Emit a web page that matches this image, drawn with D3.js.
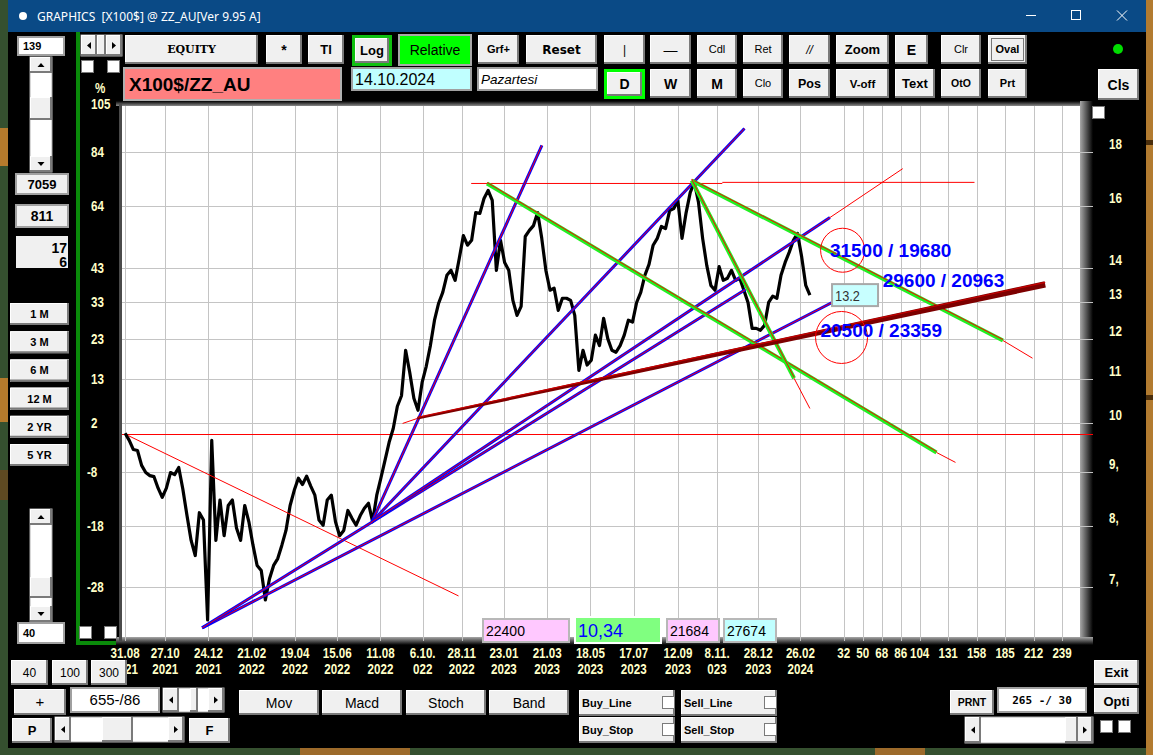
<!DOCTYPE html>
<html>
<head>
<meta charset="utf-8" />
<script src="https://cdn.jsdelivr.net/npm/d3@7/dist/d3.min.js"></script>
<style>
  body { margin: 0; background: #000; overflow: hidden; }
  text { font-family: "Liberation Sans", Arial, sans-serif; }
  .ax { font-family: "Liberation Sans", Arial, sans-serif;
        font-weight: bold; font-size: 14.5px; fill: #ffffc8; }
</style>
</head>
<body>
<script>
// ---------- values ----------
// closes, sampled at evenly spaced bars from bar 0 to lastBar
var closes = [9.78, 9.63, 9.44, 9.42, 9.12, 8.98, 8.92, 8.90, 8.68, 8.51,
  8.68, 8.98, 8.94, 9.08, 8.66, 8.18, 7.75, 7.50, 8.23, 8.10,
  6.52, 9.63, 7.75, 8.46, 7.83, 8.36, 8.46, 7.96, 7.75, 8.36,
  8.07, 7.67, 7.34, 7.26, 6.81, 7.13, 7.34, 7.45, 7.67, 7.92,
  8.36, 8.64, 8.87, 8.75, 8.91, 8.72, 8.55, 8.10, 8.01, 8.46,
  8.55, 8.07, 7.83, 7.92, 8.27, 8.13, 8.01, 8.18, 8.31, 8.40,
  8.07, 8.55, 8.87, 9.22, 9.59, 9.88, 10.37, 10.61, 11.71, 11.16,
  10.55, 10.28, 10.92, 11.31, 11.83, 12.50, 12.97, 13.28, 13.78, 13.93,
  13.63, 14.29, 15.02, 14.71, 14.87, 15.79, 15.76, 16.28, 16.57, 16.21,
  13.93, 14.87, 14.17, 13.93, 13.05, 12.63, 12.88, 14.99, 15.19, 15.35,
  15.79, 14.93, 13.93, 13.34, 13.40, 12.77, 13.11, 13.11, 13.05, 12.63,
  11.21, 11.71, 11.34, 11.46, 12.10, 11.83, 12.55, 12.01, 11.71, 11.66,
  11.83, 12.10, 12.50, 12.45, 12.99, 13.28, 13.78, 14.11, 14.71, 14.93,
  15.32, 15.25, 15.86, 15.93, 16.21, 14.93, 15.79, 16.50, 16.86, 16.14,
  14.93, 14.08, 13.48, 13.34, 14.04, 13.63, 13.69, 13.93, 13.63, 13.69,
  13.34, 12.99, 12.28, 12.28, 12.23, 12.36, 12.99, 13.17, 13.11, 13.78,
  14.17, 14.49, 14.87, 15.09, 14.35, 13.48, 13.2];
var lastBar = 649;
var basePrice = 9.76;               // 0 % of the relative scale

var priceTicks = [20, 18, 16, 14, 13, 12, 11, 10, 9, 8, 7];
var rightTickText = ["", "18", "16", "14", "13", "12", "11", "10", "9,", "8,", "7,"];

var dateTickBars = [0, 38, 79, 120, 161, 201, 242, 282, 319, 359, 400, 441, 482, 524, 561, 600, 640];
var dateTickText = [["31.08", "2021"], ["27.10", "2021"], ["24.12", "2021"], ["21.02", "2022"],
  ["19.04", "2022"], ["15.06", "2022"], ["11.08", "2022"], ["6.10.", "022"], ["28.11", "2022"],
  ["23.01", "2023"], ["21.03", "2023"], ["18.05", "2023"], ["17.07", "2023"], ["12.09", "2023"],
  ["8.11.", "023"], ["28.12", "2023"], ["26.02", "2024"]];
var futureDays = [32, 50, 68, 86, 104, 131, 158, 185, 212, 239];

// drawn objects, endpoints as [bar, price]
var fanLines = [
  { a: [73, 6.41], b: [670, 12.99] },
  { a: [73, 6.41], b: [588, 13.36] },
  { a: [234, 8.07], b: [395, 18.27] },
  { a: [234, 8.07], b: [587, 18.95] },
  { a: [234, 8.07], b: [668, 15.62], ext: [737, 17.37] }
];
var greenLines = [
  { a: [343, 16.82], b: [769, 9.38], ext: [787, 9.18] },
  { a: [537, 16.93], b: [832, 11.96], ext: [860, 11.51] },
  { a: [537, 16.93], b: [634, 11.02], ext: [649, 10.32] }
];
var redLines = [
  { a: [3, 9.73], b: [316, 6.87] },
  { a: [328, 16.82], b: [566, 16.82] },
  { a: [566, 16.86], b: [805, 16.86] }
];
var supportLine = { a: [277, 10.10], b: [872, 13.51], ext: [263, 9.99] };
var ovals = [{ c: [680, 14.55], r: 22 }, { c: [679, 12.04], r: 26 }];
var targets = [
  { at: [668, 14.33], text: "31500 / 19680" },
  { at: [718, 13.43], text: "29600 / 20963" },
  { at: [659, 12.04], text: "20500 / 23359" }
];
var infoValues = ["22400", "10,34", "21684", "27674"];

// ---------- page ----------
var W = 1153, H = 755;
var svg = d3.select("body").append("svg").attr("width", W).attr("height", H);
var defs = svg.append("defs");

function grad(id, x2, y2, c1, c2) {
  var g = defs.append("linearGradient").attr("id", id)
    .attr("x1", 0).attr("y1", 0).attr("x2", x2).attr("y2", y2);
  g.append("stop").attr("offset", "0%").attr("stop-color", c1);
  g.append("stop").attr("offset", "100%").attr("stop-color", c2);
}
grad("shR", 1, 0, "#a8a8a8", "#000");
grad("shB", 0, 1, "#a8a8a8", "#000");
grad("shT", 0, 1, "#000", "#8a8a8a");

// wallpaper round the window
svg.append("rect").attr("width", W).attr("height", H).attr("fill", "#35502f");
[[0, 128, 8, 38, "#b57a2c"], [0, 378, 8, 44, "#b57a2c"], [0, 470, 8, 30, "#5e4a22"],
 [1146, 0, 7, 755, "#b27b30"], [1146, 140, 7, 5, "#4a2e0c"], [1146, 395, 7, 5, "#4a2e0c"],
 [300, 748, 110, 7, "#9c6a2a"], [875, 748, 50, 7, "#9c6a2a"]].forEach(function (b) {
  svg.append("rect").attr("x", b[0]).attr("y", b[1]).attr("width", b[2]).attr("height", b[3]).attr("fill", b[4]);
});

// window
svg.append("rect").attr("x", 8).attr("y", 0).attr("width", 1138).attr("height", 748).attr("fill", "#000");
svg.append("rect").attr("x", 8).attr("y", 0).attr("width", 1138).attr("height", 32).attr("fill", "#0a4a86");
svg.append("circle").attr("cx", 23).attr("cy", 16).attr("r", 4).attr("fill", "#fff");
svg.append("text").attr("x", 37).attr("y", 21).attr("fill", "#fff")
  .style("font-family", "'Noto Sans', 'Open Sans', sans-serif").style("font-size", "12px")
  .text("GRAPHICS\u00a0\u00a0[X100$] @ ZZ_AU[Ver 9.95 A]");
svg.append("line").attr("x1", 1026).attr("x2", 1036).attr("y1", 15.5).attr("y2", 15.5).attr("stroke", "#fff");
svg.append("rect").attr("x", 1071.5).attr("y", 10.5).attr("width", 9).attr("height", 9).attr("fill", "none").attr("stroke", "#fff");
svg.append("path").attr("d", "M1117,10.5 L1127,20.5 M1127,10.5 L1117,20.5").attr("stroke", "#fff");

// green frame left of the axis
svg.append("rect").attr("x", 76).attr("y", 32).attr("width", 4).attr("height", 613).attr("fill", "#0a8a0a");
svg.append("rect").attr("x", 76).attr("y", 641).attr("width", 46).attr("height", 4).attr("fill", "#0a8a0a");

// ---------- chart ----------
var plot = { left: 122, right: 1080, top: 106, bottom: 637 };
var x = d3.scaleLinear().domain([-2, 905]).range([123, 1080]);
var y = d3.scaleLog().domain([6.284, 19.90]).range([637, 106]);
function P(p) { return [x(p[0]), y(p[1])]; }

svg.append("rect").attr("x", 116).attr("y", 101).attr("width", 977).attr("height", 5).attr("fill", "url(#shT)");
svg.append("rect").attr("x", plot.right).attr("y", 101).attr("width", 13).attr("height", 544).attr("fill", "url(#shR)");
svg.append("rect").attr("x", 116).attr("y", plot.bottom).attr("width", 977).attr("height", 8).attr("fill", "url(#shB)");
svg.append("rect").attr("x", 119).attr("y", 104).attr("width", 3).attr("height", 537).attr("fill", "#4a4a4a");
svg.append("rect").attr("x", plot.left).attr("y", plot.top)
  .attr("width", plot.right - plot.left).attr("height", plot.bottom - plot.top).attr("fill", "#fff");

var grid = svg.append("g").attr("stroke", "#c4c4c4").attr("stroke-width", 1);
var allBars = dateTickBars.concat(futureDays.map(function (d) { return lastBar + d; }));
grid.selectAll("line.v").data(allBars).enter().append("line")
  .attr("x1", function (d) { return Math.round(x(d)) + 0.5; })
  .attr("x2", function (d) { return Math.round(x(d)) + 0.5; })
  .attr("y1", plot.top).attr("y2", plot.bottom + 4);
var inPlot = priceTicks.filter(function (p) { return y(p) > plot.top; });
grid.selectAll("line.h").data(inPlot).enter().append("line")
  .attr("x1", plot.left).attr("x2", 1093)
  .attr("y1", function (d) { return Math.round(y(d)) + 0.5; })
  .attr("y2", function (d) { return Math.round(y(d)) + 0.5; });

// 0 % line
svg.append("line").attr("x1", plot.left).attr("x2", 1093)
  .attr("y1", Math.round(y(basePrice)) + 0.5).attr("y2", Math.round(y(basePrice)) + 0.5)
  .attr("stroke", "#ff0000");

// axis text: bold, squeezed to the narrow look of the screen font
function axText(g, px, py, t, anchor) {
  return g.append("text").attr("class", "ax")
    .attr("transform", "translate(" + px + "," + py + ") scale(0.8,1)")
    .attr("text-anchor", anchor || "start").text(t);
}

var axL = svg.append("g");
axText(axL, 95, 93, "%");
priceTicks.forEach(function (p, i) {
  axText(axL, p < basePrice ? 87 : 91, y(p) + 5, Math.round((p / basePrice - 1) * 100));
  if (rightTickText[i]) axText(axL, 1109, y(p) - 3, rightTickText[i]);
});

var axB = svg.append("g");
dateTickBars.forEach(function (b, i) {
  axText(axB, x(b), 657.5, dateTickText[i][0], "middle");
  axText(axB, x(b), 674, dateTickText[i][1], "middle");
});
futureDays.forEach(function (d) {
  axText(axB, x(lastBar + d), 657.5, d, "middle");
});

// price
var step = lastBar / (closes.length - 1);
svg.append("path").datum(closes)
  .attr("d", d3.line().x(function (d, i) { return x(i * step); }).y(function (d) { return y(d); }))
  .attr("fill", "none").attr("stroke", "#000").attr("stroke-width", 3.2).attr("stroke-linejoin", "round");

function seg(g, a, b) {
  var p = P(a), q = P(b);
  return g.append("line").attr("x1", p[0]).attr("y1", p[1]).attr("x2", q[0]).attr("y2", q[1]);
}

// red thin
var gRed = svg.append("g").attr("stroke", "#ff0000").attr("stroke-width", 1);
redLines.forEach(function (l) { seg(gRed, l.a, l.b); });

// fan lines: blue with red core
var gFan = svg.append("g");
fanLines.forEach(function (l) {
  seg(gFan, l.a, l.b).attr("stroke", "#0000ff").attr("stroke-width", 3);
  seg(gFan, l.a, l.b).attr("stroke", "#ff0000").attr("stroke-width", 1);
  if (l.ext) seg(gFan, l.b, l.ext).attr("stroke", "#ff0000").attr("stroke-width", 1);
});

// green lines
var gGreen = svg.append("g");
greenLines.forEach(function (l) {
  seg(gGreen, l.a, l.b).attr("stroke", "#22ee22").attr("stroke-width", 4);
  seg(gGreen, l.a, l.b).attr("stroke", "#ff0000").attr("stroke-width", 1).attr("transform", "translate(0,-1)");
  seg(gGreen, l.b, l.ext).attr("stroke", "#ff0000").attr("stroke-width", 1);
});

// thick support, widening to the right
(function () {
  var p = P(supportLine.a), q = P(supportLine.b), e = P(supportLine.ext);
  var dx = q[0] - p[0], dy = q[1] - p[1], len = Math.sqrt(dx * dx + dy * dy);
  var nx = -dy / len, ny = dx / len, w0 = 1.2, w1 = 3.2;
  var poly = [[p[0] + nx * w0, p[1] + ny * w0], [q[0] + nx * w1, q[1] + ny * w1],
              [q[0] - nx * w1, q[1] - ny * w1], [p[0] - nx * w0, p[1] - ny * w0]];
  svg.append("line").attr("x1", e[0]).attr("y1", e[1]).attr("x2", p[0]).attr("y2", p[1])
    .attr("stroke", "#ff0000");
  svg.append("path").attr("d", "M" + poly.join("L") + "Z").attr("fill", "#7d0000");
  svg.append("line").attr("x1", p[0]).attr("y1", p[1] - 1).attr("x2", q[0]).attr("y2", q[1] - 2)
    .attr("stroke", "#c80000").attr("stroke-width", 1.2);
})();

// ovals
svg.selectAll("circle.oval").data(ovals).enter().append("circle")
  .attr("cx", function (d) { return x(d.c[0]); }).attr("cy", function (d) { return y(d.c[1]); })
  .attr("r", function (d) { return d.r; }).attr("fill", "none").attr("stroke", "#ff0000");

// target texts
svg.selectAll("text.tg").data(targets).enter().append("text")
  .attr("x", function (d) { return x(d.at[0]); }).attr("y", function (d) { return y(d.at[1]); })
  .attr("fill", "#0000ff").style("font-size", "19px").style("font-weight", "bold")
  .text(function (d) { return d.text; });

// last value box
var lx = x(lastBar + 21), ly = y(closes[closes.length - 1]);
svg.append("rect").attr("x", lx).attr("y", ly - 11).attr("width", 46).attr("height", 22)
  .attr("fill", "#c8ffff").attr("stroke", "#a8a8a8").attr("stroke-width", 2);
svg.append("text").attr("transform", "translate(" + (lx + 3) + "," + (ly + 6) + ") scale(0.85,1)").attr("fill", "#333")
  .style("font-size", "15px").text(closes[closes.length - 1].toFixed(1));

// value boxes at the bottom of the plot
var boxes = [[483, 619, 86, 23, "#ffc8ff", "#000", 14], [575, 617, 86, 26, "#80ff80", "#0000ff", 18],
             [667, 619, 52, 23, "#ffc8ff", "#000", 14], [724, 619, 52, 23, "#c0ffff", "#000", 14]];
boxes.forEach(function (b, i) {
  svg.append("rect").attr("x", b[0]).attr("y", b[1]).attr("width", b[2]).attr("height", b[3])
    .attr("fill", b[4]).attr("stroke", i === 1 ? "#fff" : "#b8b8b8").attr("stroke-width", 2);
  svg.append("text").attr("x", b[0] + 3).attr("y", b[1] + b[3] - 6).attr("fill", b[5])
    .style("font-size", b[6] + "px").text(infoValues[i]);
});

// ---------- controls ----------
var SANS = "'Liberation Sans', Arial, sans-serif";
function btn(x0, y0, w, h, label, o) {
  o = o || {};
  var g = svg.append("g");
  g.append("rect").attr("x", x0).attr("y", y0).attr("width", w).attr("height", h).attr("fill", o.fill || "#f0f0f0");
  g.append("path").attr("d", "M" + (x0 + 0.5) + "," + (y0 + h) + "V" + (y0 + 0.5) + "H" + (x0 + w))
    .attr("stroke", "#fff").attr("fill", "none");
  g.append("path").attr("d", "M" + x0 + "," + (y0 + h - 1) + "H" + (x0 + w - 1) + "V" + y0)
    .attr("stroke", "#7a7a7a").attr("stroke-width", 2).attr("fill", "none");
  if (label !== "") {
    g.append("text").attr("x", o.left ? x0 + o.left : x0 + w / 2).attr("y", y0 + h / 2).attr("dy", "0.36em")
      .attr("text-anchor", o.left ? "start" : "middle").attr("fill", o.color || "#000")
      .style("font-family", o.font || SANS).style("font-size", (o.size || 12) + "px")
      .style("font-weight", o.normal ? "normal" : "bold").style("font-style", o.italic ? "italic" : "normal")
      .text(label);
  }
  return g;
}
function field(x0, y0, w, h, fill, label, o) {
  o = o || {};
  svg.append("rect").attr("x", x0).attr("y", y0).attr("width", w).attr("height", h).attr("fill", fill)
    .attr("stroke", "#a0a0a0").attr("stroke-width", 2);
  if (label) svg.append("text").attr("x", o.anchor === "middle" ? x0 + w / 2 : x0 + (o.pad || 4))
    .attr("y", y0 + h / 2).attr("dy", "0.36em").attr("text-anchor", o.anchor || "start")
    .style("font-family", o.font || SANS).style("font-size", (o.size || 12) + "px")
    .style("font-weight", o.bold ? "bold" : "normal").style("font-style", o.italic ? "italic" : "normal")
    .attr("fill", "#000").text(label);
}
function check(x0, y0) {
  svg.append("rect").attr("x", x0 + 0.5).attr("y", y0 + 0.5).attr("width", 12).attr("height", 12)
    .attr("fill", "#fff").attr("stroke", "#7a7a7a");
}
function arrow(cx, cy, dir) {
  var s = 3.5, d;
  if (dir === "l") d = [[cx + 2, cy - s], [cx + 2, cy + s], [cx - 2, cy]];
  if (dir === "r") d = [[cx - 2, cy - s], [cx - 2, cy + s], [cx + 2, cy]];
  if (dir === "u") d = [[cx - s, cy + 2], [cx + s, cy + 2], [cx, cy - 2]];
  if (dir === "d") d = [[cx - s, cy - 2], [cx + s, cy - 2], [cx, cy + 2]];
  svg.append("path").attr("d", "M" + d.join("L") + "Z").attr("fill", "#000");
}
function hscroll(x0, y0, w, h, t0, t1) {
  svg.append("rect").attr("x", x0).attr("y", y0).attr("width", w).attr("height", h).attr("fill", "#fff").attr("stroke", "#b0b0b0");
  btn(x0, y0, 16, h, ""); arrow(x0 + 8, y0 + h / 2, "l");
  btn(x0 + w - 16, y0, 16, h, ""); arrow(x0 + w - 8, y0 + h / 2, "r");
  btn(t0, y0, t1 - t0, h, "");
}
function vscroll(x0, y0, w, h, t0, t1) {
  svg.append("rect").attr("x", x0).attr("y", y0).attr("width", w).attr("height", h).attr("fill", "#fff").attr("stroke", "#b0b0b0");
  btn(x0, y0, w, 16, ""); arrow(x0 + w / 2, y0 + 8, "u");
  btn(x0, y0 + h - 16, w, 16, ""); arrow(x0 + w / 2, y0 + h - 8, "d");
  btn(x0, t0, w, t1 - t0, "");
}

// top row
field(18, 37, 46, 18, "#fff", "139", { bold: true, size: 11, pad: 5 });
hscroll(81, 35, 41, 21, 97, 106);
check(81, 60); check(107, 60);
btn(125, 35, 133, 29, "EQUITY", { font: "'DejaVu Serif', 'Liberation Serif', serif", size: 11 });
btn(266, 35, 36, 29, "*", { size: 14 });
btn(308, 35, 36, 29, "Tl", { size: 13 });
svg.append("rect").attr("x", 352).attr("y", 35).attr("width", 40).attr("height", 31).attr("fill", "#10c010");
btn(355, 38, 34, 25, "Log", { size: 13 });
svg.append("rect").attr("x", 399).attr("y", 35).attr("width", 72).attr("height", 30)
  .attr("fill", "#00ff00").attr("stroke", "#a8a8a8").attr("stroke-width", 2);
svg.append("text").attr("x", 435).attr("y", 55).attr("text-anchor", "middle").style("font-size", "14px").text("Relative");
btn(478, 35, 41, 29, "Grf+", { size: 11 });
btn(526, 35, 71, 29, "Reset", { size: 12, font: "'DejaVu Sans', sans-serif" });
btn(604, 35, 41, 29, "|", { size: 12, normal: true });
btn(650, 35, 41, 29, "\u2014", { size: 14, normal: true });
btn(697, 35, 40, 29, "Cdl", { size: 11, normal: true });
btn(743, 35, 40, 29, "Ret", { size: 11, normal: true });
btn(789, 35, 41, 29, "//", { size: 12, normal: true, italic: true });
btn(836, 35, 53, 29, "Zoom", { size: 13 });
btn(895, 35, 33, 29, "E", { size: 14 });
btn(941, 35, 40, 29, "Clr", { size: 11, normal: true });
btn(988, 35, 39, 29, "Oval", { size: 11 });
svg.append("rect").attr("x", 991.5).attr("y", 38.5).attr("width", 32).attr("height", 22)
  .attr("fill", "none").attr("stroke", "#000").attr("stroke-dasharray", "1,1");
svg.append("circle").attr("cx", 1118).attr("cy", 49).attr("r", 5).attr("fill", "#00dd00");

// second row
svg.append("rect").attr("x", 124).attr("y", 68).attr("width", 217).attr("height", 32)
  .attr("fill", "#ff8080").attr("stroke", "#b0b0b0").attr("stroke-width", 2);
svg.append("text").attr("x", 129).attr("y", 91).style("font-size", "19px").style("font-weight", "bold").text("X100$/ZZ_AU");
field(352, 68, 119, 22, "#c0ffff", "14.10.2024", { size: 16, pad: 3 });
field(478, 68, 119, 22, "#fff", "Pazartesi", { size: 13.5, italic: true, pad: 3 });
svg.append("rect").attr("x", 604).attr("y", 69).attr("width", 41).attr("height", 30).attr("fill", "#00ff00");
btn(607, 72, 35, 24, "D", { size: 14 });
btn(650, 69, 41, 29, "W", { size: 14 });
btn(697, 69, 40, 29, "M", { size: 14 });
btn(743, 69, 40, 29, "Clo", { size: 11, normal: true });
btn(789, 69, 41, 29, "Pos", { size: 12.5 });
btn(836, 69, 53, 29, "V-off", { size: 11.5 });
btn(895, 69, 40, 29, "Text", { size: 13 });
btn(941, 69, 40, 29, "OtO", { size: 10.5 });
btn(988, 69, 39, 29, "Prt", { size: 11 });
btn(1098, 69, 41, 31, "Cls", { size: 14 });
check(1092, 106);

// left column
vscroll(30, 57, 22, 115, 97, 120);
field(16, 174, 52, 20, "#f0f0f0", "7059", { bold: true, size: 13, anchor: "middle" });
field(16, 205, 52, 22, "#f0f0f0", "811", { bold: true, size: 14, anchor: "middle" });
svg.append("rect").attr("x", 16).attr("y", 236).attr("width", 52).attr("height", 32).attr("fill", "#f0f0f0");
svg.append("text").attr("x", 67).attr("y", 253).attr("text-anchor", "end").style("font-size", "14px").style("font-weight", "bold").text("17");
svg.append("text").attr("x", 67).attr("y", 267).attr("text-anchor", "end").style("font-size", "14px").style("font-weight", "bold").text("6");
["1 M", "3 M", "6 M", "12 M", "2 YR", "5 YR"].forEach(function (t, i) {
  btn(10, 303 + i * 28.2, 59, 22, t, { size: 11 });
});
vscroll(30, 509, 22, 113, 577, 598);
field(18, 623, 46, 20, "#fff", "40", { bold: true, size: 11, pad: 5 });
check(79, 626); check(104, 626);

// bottom
btn(11, 660, 37, 25, "40", { size: 12, normal: true });
btn(52, 660, 36, 25, "100", { size: 12, normal: true });
btn(91, 660, 36, 25, "300", { size: 12, normal: true });
btn(14, 689, 52, 26, "+", { size: 15, normal: true });
field(71, 688, 88, 24, "#fff", "655-/86", { size: 15, anchor: "middle" });
hscroll(163, 688, 61, 24, 190, 198);
btn(239, 690, 80, 25, "Mov", { size: 14, normal: true });
btn(322, 690, 80, 25, "Macd", { size: 14, normal: true });
btn(406, 690, 80, 25, "Stoch", { size: 14, normal: true });
btn(489, 690, 80, 25, "Band", { size: 14, normal: true });
[["Buy_Line", 579, 690], ["Sell_Line", 681, 690], ["Buy_Stop", 579, 717], ["Sell_Stop", 681, 717]].forEach(function (b) {
  btn(b[1], b[2], 96, 26, b[0], { size: 11, left: 3 });
  check(b[1] + 83, b[2] + 6);
});
btn(12, 718, 40, 25, "P", { size: 13 });
hscroll(55, 717, 129, 25, 102, 133);
btn(189, 718, 41, 25, "F", { size: 13 });
btn(950, 690, 44, 25, "PRNT", { size: 10.5 });
field(998, 688, 88, 24, "#fff", "265 -/ 30", { bold: true, size: 11, anchor: "middle", font: "'DejaVu Sans Mono', monospace" });
btn(1094, 660, 45, 25, "Exit", { size: 13 });
btn(1094, 688, 45, 26, "Opti", { size: 13 });
hscroll(965, 717, 128, 26, 1065, 1078);
check(1100, 720); check(1118, 720);
</script>
</body>
</html>
